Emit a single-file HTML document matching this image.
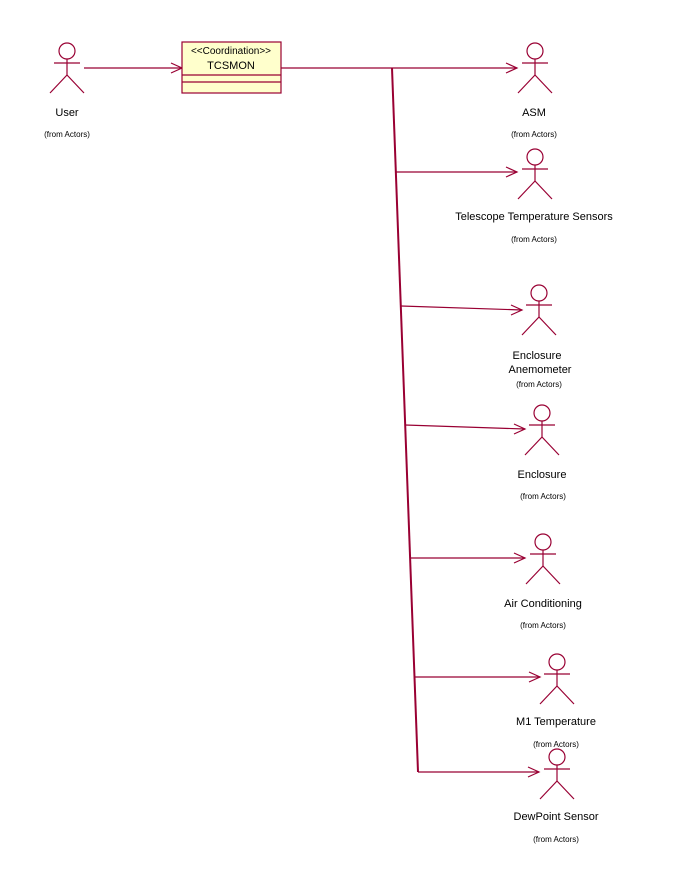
<!DOCTYPE html>
<html><head><meta charset="utf-8"><style>
html,body{margin:0;padding:0;background:#fff;}
svg{display:block;font-family:"Liberation Sans",Arial,sans-serif;}
</style></head><body>
<svg width="680" height="889" viewBox="0 0 680 889" xmlns="http://www.w3.org/2000/svg">
<defs>
<g id="act" stroke="#990033" stroke-width="1.2" fill="none">
<circle cx="0" cy="0" r="8"/>
<line x1="-13" y1="12" x2="13" y2="12"/>
<line x1="0" y1="8" x2="0" y2="24"/>
<line x1="0" y1="24" x2="-17" y2="42"/>
<line x1="0" y1="24" x2="17" y2="42"/>
</g>
</defs>
<g stroke="#990033" stroke-width="1.2" fill="none">
<!-- user to class -->
<line x1="84" y1="68" x2="182" y2="68"/>
<polyline points="171,63 182,68 171,73"/>
<!-- class box -->
<rect x="182" y="42" width="99" height="51" fill="#ffffcc"/>
<line x1="182" y1="75" x2="281" y2="75"/>
<line x1="182" y1="82" x2="281" y2="82"/>
<line x1="281" y1="68" x2="392" y2="68"/>
<!-- vertical trunk -->
<line x1="392" y1="68" x2="418" y2="772" stroke-width="2"/>
<line x1="392" y1="68" x2="517" y2="68"/>
<polyline points="506,63 517,68 506,73"/>
<line x1="396" y1="172" x2="517" y2="172"/>
<polyline points="506,167 517,172 506,177"/>
<line x1="401" y1="306" x2="522" y2="310"/>
<polyline points="511,305 522,310 511,315"/>
<line x1="405" y1="425" x2="525" y2="429"/>
<polyline points="514,424 525,429 514,434"/>
<line x1="410" y1="558" x2="525" y2="558"/>
<polyline points="514,553 525,558 514,563"/>
<line x1="414" y1="677" x2="540" y2="677"/>
<polyline points="529,672 540,677 529,682"/>
<line x1="418" y1="772" x2="539" y2="772"/>
<polyline points="528,767 539,772 528,777"/>
</g>
<use href="#act" x="67" y="51"/>
<use href="#act" x="535" y="51"/>
<use href="#act" x="535" y="157"/>
<use href="#act" x="539" y="293"/>
<use href="#act" x="542" y="413"/>
<use href="#act" x="543" y="542"/>
<use href="#act" x="557" y="662"/>
<use href="#act" x="557" y="757"/>
<g fill="#000" text-anchor="middle" font-size="11">
<text x="231" y="54" font-size="10">&lt;&lt;Coordination&gt;&gt;</text>
<text x="231" y="69">TCSMON</text>
<text x="67" y="116">User</text>
<text x="67" y="137" font-size="8">(from Actors)</text>
<text x="534" y="116">ASM</text>
<text x="534" y="137" font-size="8">(from Actors)</text>
<text x="534" y="220">Telescope Temperature Sensors</text>
<text x="534" y="242" font-size="8">(from Actors)</text>
<text x="537" y="359">Enclosure</text>
<text x="540" y="373">Anemometer</text>
<text x="539" y="387" font-size="8">(from Actors)</text>
<text x="542" y="478">Enclosure</text>
<text x="543" y="499" font-size="8">(from Actors)</text>
<text x="543" y="607">Air Conditioning</text>
<text x="543" y="628" font-size="8">(from Actors)</text>
<text x="556" y="725">M1 Temperature</text>
<text x="556" y="747" font-size="8">(from Actors)</text>
<text x="556" y="820">DewPoint Sensor</text>
<text x="556" y="842" font-size="8">(from Actors)</text>
</g>
</svg>
</body></html>
